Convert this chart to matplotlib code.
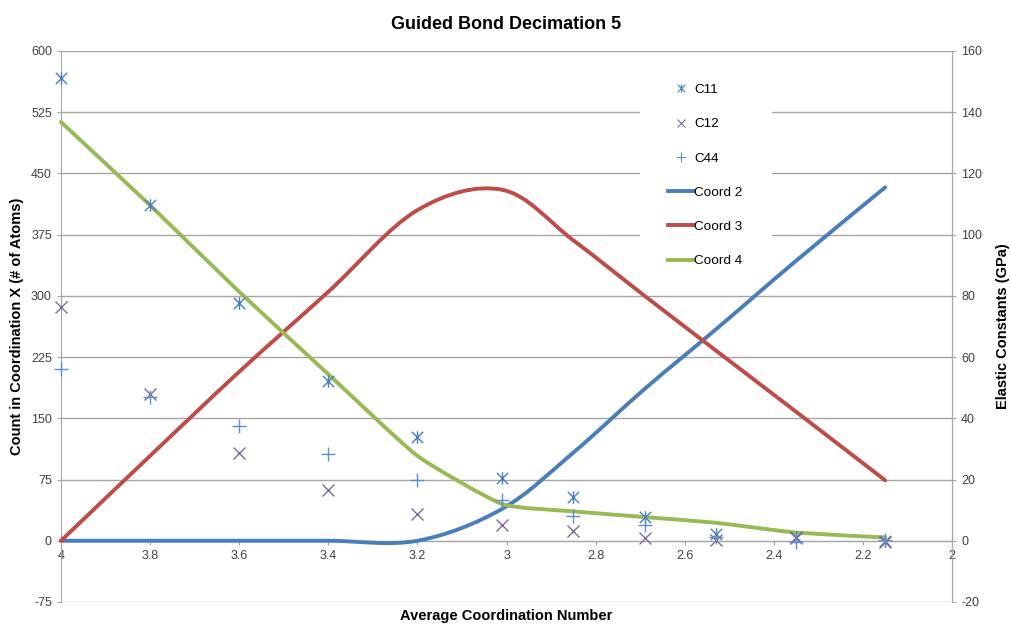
import matplotlib
matplotlib.use("Agg")
import matplotlib.pyplot as plt
from matplotlib.path import Path
from matplotlib.patches import PathPatch, Rectangle
from matplotlib.lines import Line2D
from matplotlib.ticker import FormatStrFormatter, MultipleLocator

plt.rcParams["font.family"] = ["Liberation Sans", "DejaVu Sans"]
plt.rcParams["axes.unicode_minus"] = False

# average coordination number of each decimation step
coord_num = [4, 3.8, 3.6, 3.4, 3.2, 3.01, 2.85, 2.69, 2.53, 2.35, 2.15]

# atom counts (left axis)
coord2 = [0, 0, 0, 0, 0, 39, 108, 186, 259, 343, 433]
coord3 = [0, 104, 207, 305, 405, 430, 368, 300, 233, 158, 74]
coord4 = [513, 411, 305, 204, 104, 45, 36, 29, 22, 10, 4]

# elastic constants in GPa (right axis)
c11 = [151.3, 109.8, 77.6, 52.3, 33.8, 20.4, 14.4, 7.6, 2.2, 1.1, -0.2]
c12 = [76.3, 48.0, 28.7, 16.6, 8.9, 5.1, 3.3, 0.9, 0.3, 0.9, -0.3]
c44 = [56.2, 46.9, 37.6, 28.4, 19.9, 13.3, 8.2, 5.0, 1.3, -0.4, 0.1]

BLUE = "#4A7EBB"
RED = "#BE4B48"
GREEN = "#98B954"
PURPLE = "#7D6A9E"
LIGHTBLUE = "#5B8FD0"
GRID = "#A6A6A6"
TXT = "#404040"

# asterisk like Excel's: an X with a vertical bar through it
STAR = Path([(-1, -1), (1, 1), (-1, 1), (1, -1), (0, -1.1), (0, 1.1)],
            [Path.MOVETO, Path.LINETO] * 3)


def smooth_path(xs, ys, f=1 / 6):
    # smoothed line: cubic Bezier through every point
    pts = list(zip(xs, ys))
    n = len(pts)
    verts = [pts[0]]
    codes = [Path.MOVETO]
    for i in range(n - 1):
        p0 = pts[i - 1] if i > 0 else pts[i]
        p1 = pts[i]
        p2 = pts[i + 1]
        p3 = pts[i + 2] if i + 2 < n else pts[i + 1]
        c1 = (p1[0] + (p2[0] - p0[0]) * f, p1[1] + (p2[1] - p0[1]) * f)
        c2 = (p2[0] - (p3[0] - p1[0]) * f, p2[1] - (p3[1] - p1[1]) * f)
        verts += [c1, c2, p2]
        codes += [Path.CURVE4] * 3
    return Path(verts, codes)


fig = plt.figure(figsize=(10.11, 6.24), dpi=100)
ax = fig.add_axes([0.0603, 0.0353, 0.8814, 0.883])
ax2 = ax.twinx()

# white legend area hiding the gridlines behind it (lines stay on top)
ax.add_patch(Rectangle((0.6498, 0.5935), 0.1482, 0.39, transform=ax.transAxes,
                       facecolor="white", edgecolor="none", zorder=1))

for ys, col, f in [(coord2, BLUE, 1 / 6), (coord3, RED, 1 / 6), (coord4, GREEN, 1 / 12)]:
    ax.add_patch(PathPatch(smooth_path(coord_num, ys, f), facecolor="none",
                           edgecolor=col, lw=2.8, capstyle="round", zorder=3, clip_on=False))

ax.set_xlim(4, 2)
ax.set_ylim(-75, 600)
ax.yaxis.set_major_locator(MultipleLocator(75))
ax.xaxis.set_major_locator(MultipleLocator(0.2))
ax.xaxis.set_major_formatter(FormatStrFormatter("%g"))
ax.yaxis.grid(True, color=GRID, lw=1)
ax.set_axisbelow(True)

ax.spines["bottom"].set_position(("data", 0))
ax.spines["top"].set_visible(False)
for s in ["bottom", "left", "right"]:
    ax.spines[s].set_color(GRID)
for s in ["top", "bottom", "left"]:
    ax2.spines[s].set_visible(False)
ax2.spines["right"].set_color(GRID)

ax.tick_params(axis="both", labelsize=9, colors=GRID, labelcolor=TXT, length=3)
ax2.tick_params(axis="y", labelsize=9, colors=GRID, labelcolor=TXT, length=3)

ax2.plot(coord_num, c11, ls="none", marker=STAR, ms=9, mew=1, color=BLUE, zorder=4, clip_on=False)
ax2.plot(coord_num, c12, ls="none", marker="x", ms=8, mew=1, color=PURPLE, zorder=4, clip_on=False)
ax2.plot(coord_num, c44, ls="none", marker="+", ms=10, mew=1, color=LIGHTBLUE, zorder=4, clip_on=False)
ax2.set_ylim(-20, 160)
ax2.yaxis.set_major_locator(MultipleLocator(20))

ax.set_title("Guided Bond Decimation 5", fontsize=13, fontweight="bold", pad=16)
ax.set_xlabel("Average Coordination Number", fontsize=10.5, fontweight="bold")
ax.xaxis.set_label_coords(0.5, -0.012)
ax.set_ylabel("Count in Coordination X (# of Atoms)", fontsize=10.5, fontweight="bold", labelpad=5)
ax2.set_ylabel("Elastic Constants (GPa)", fontsize=10.5, fontweight="bold", labelpad=10)

handles = [
    Line2D([], [], ls="none", marker=STAR, ms=6, mew=0.8, color=BLUE),
    Line2D([], [], ls="none", marker="x", ms=6, mew=0.8, color=PURPLE),
    Line2D([], [], ls="none", marker="+", ms=7, mew=0.8, color=LIGHTBLUE),
    Line2D([], [], color=BLUE, lw=2.8),
    Line2D([], [], color=RED, lw=2.8),
    Line2D([], [], color=GREEN, lw=2.8),
]
labels = ["C11", "C12", "C44", "Coord 2", "Coord 3", "Coord 4"]
leg = ax2.legend(handles, labels, loc="upper left", bbox_to_anchor=(0.6756, 0.9505),
                 fontsize=9.7, frameon=False, labelspacing=1.62, handlelength=1.9,
                 handletextpad=0.0, borderaxespad=0)
leg.set_zorder(10)

fig.savefig("out.png", dpi=100)
